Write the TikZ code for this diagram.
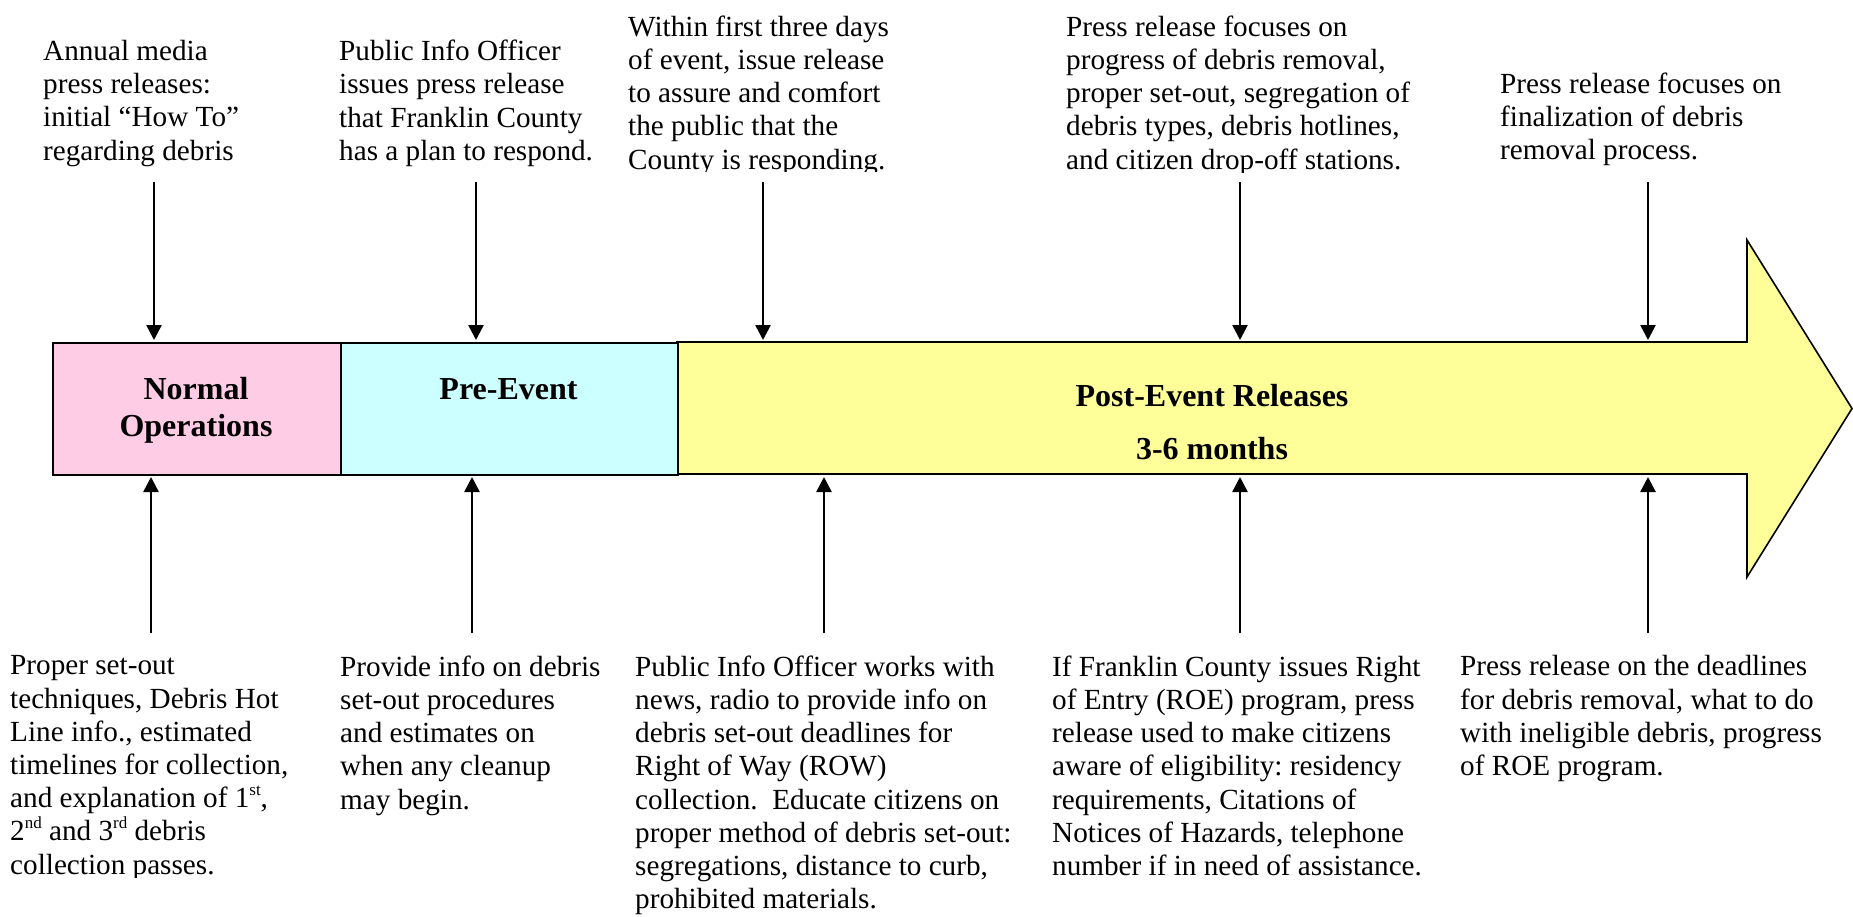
\documentclass[tikz,border=0pt]{standalone}
\usepackage{fontspec}
\setmainfont{Liberation Serif}
\usetikzlibrary{arrows.meta}
\definecolor{normalpink}{HTML}{FFCCE6}
\definecolor{precyan}{HTML}{CCFFFF}
\definecolor{postyellow}{HTML}{FFFF99}
% small raised ordinal suffix
\newcommand\ordsuffix[1]{\raisebox{12.5pt}{\fontsize{17}{17}\selectfont #1}}

\begin{document}
\frenchspacing
\begin{tikzpicture}[x=1pt,y=-1pt,
  note/.style={anchor=north west, inner sep=0pt, align=left,
    font=\fontsize{29.2}{33.2}\selectfont, execute at begin node=\strut},
  phase/.style={anchor=north, inner sep=0pt, align=center,
    font=\fontsize{32}{36.8}\selectfont\bfseries, execute at begin node=\strut},
  band/.style={draw=black, line width=1.6pt, inner sep=0pt, anchor=north west,
    minimum height=132pt},
  pointer/.style={line width=2.6pt, -{Triangle[width=15pt,length=15pt]}}
]
\useasboundingbox (0,0) rectangle (1853,916);

% ---- time band: post-event arrow, then the two earlier phases
\draw[line width=1.6pt, fill=postyellow]
  (677,342) -- (1747,342) -- (1747,240) -- (1852,408.5)
  -- (1747,577) -- (1747,474) -- (677,474) -- cycle;
\node[band, fill=normalpink, minimum width=288pt] (normal) at (52,342) {};
\node[band, fill=precyan, minimum width=337pt] (pre) at (340,342) {};

\node[phase] (normallbl) at (196,377.2) {Normal\\Operations};
\node[phase] (prelbl) at (508.5,373.2) {Pre-Event};
\node[phase] (postlbl) at (1212,384.2) {Post-Event Releases\\[16pt]3-6 months};

% ---- notes above the band
\node[note] (t1) at (43,40) {Annual media\\press releases:\\initial “How To”\\regarding debris};
\node[note] (t2) at (339,40) {Public Info Officer\\issues press release\\that Franklin County\\has a plan to respond.};
\begin{scope}
  \clip (600,0) rectangle (1040,171);
  \node[note] (t3) at (628,15.5) {Within first three days\\of event, issue release\\to assure and comfort\\the public that the\\County is responding.};
\end{scope}
\begin{scope}
  \clip (1040,0) rectangle (1480,172);
  \node[note] (t4) at (1066,15.5) {Press release focuses on\\progress of debris removal,\\proper set-out, segregation of\\debris types, debris hotlines,\\and citizen drop-off stations.};
\end{scope}
\node[note] (t5) at (1500,72.5) {Press release focuses on\\finalization of debris\\removal process.};

% ---- notes below the band
\begin{scope}
  \clip (0,600) rectangle (330,877);
  \node[note] (b1) at (10,655.5) {Proper set-out\\techniques, Debris Hot\\Line info., estimated\\timelines for collection,\\and explanation of 1\ordsuffix{st},\\2\ordsuffix{nd} and 3\ordsuffix{rd} debris\\collection passes.};
\end{scope}
\node[note] (b2) at (340,655.5) {Provide info on debris\\set-out procedures\\and estimates on\\when any cleanup\\may begin.};
\node[note] (b3) at (635,655.5) {Public Info Officer works with\\news, radio to provide info on\\debris set-out deadlines for\\Right of Way (ROW)\\collection.\ \ Educate citizens on\\proper method of debris set-out:\\segregations, distance to curb,\\prohibited materials.};
\node[note] (b4) at (1052,655.5) {If Franklin County issues Right\\of Entry (ROE) program, press\\release used to make citizens\\aware of eligibility: residency\\requirements, Citations of\\Notices of Hazards, telephone\\number if in need of assistance.};
\node[note] (b5) at (1460,655.5) {Press release on the deadlines\\for debris removal, what to do\\with ineligible debris, progress\\of ROE program.};

% ---- pointers from the notes to the band
\coordinate (u1) at (154,182);  \coordinate (u1e) at (154,340);
\coordinate (u2) at (476,182);  \coordinate (u2e) at (476,340);
\coordinate (u3) at (763,182);  \coordinate (u3e) at (763,340);
\coordinate (u4) at (1240,182); \coordinate (u4e) at (1240,340);
\coordinate (u5) at (1648,182); \coordinate (u5e) at (1648,340);
\foreach \k in {1,...,5} {\draw[pointer] (u\k) -- (u\k e);}

\coordinate (d1) at (151,633);  \coordinate (d1e) at (151,477);
\coordinate (d2) at (472,633);  \coordinate (d2e) at (472,477);
\coordinate (d3) at (824,633);  \coordinate (d3e) at (824,477);
\coordinate (d4) at (1240,633); \coordinate (d4e) at (1240,477);
\coordinate (d5) at (1648,633); \coordinate (d5e) at (1648,477);
\foreach \k in {1,...,5} {\draw[pointer] (d\k) -- (d\k e);}
\end{tikzpicture}
\end{document}
